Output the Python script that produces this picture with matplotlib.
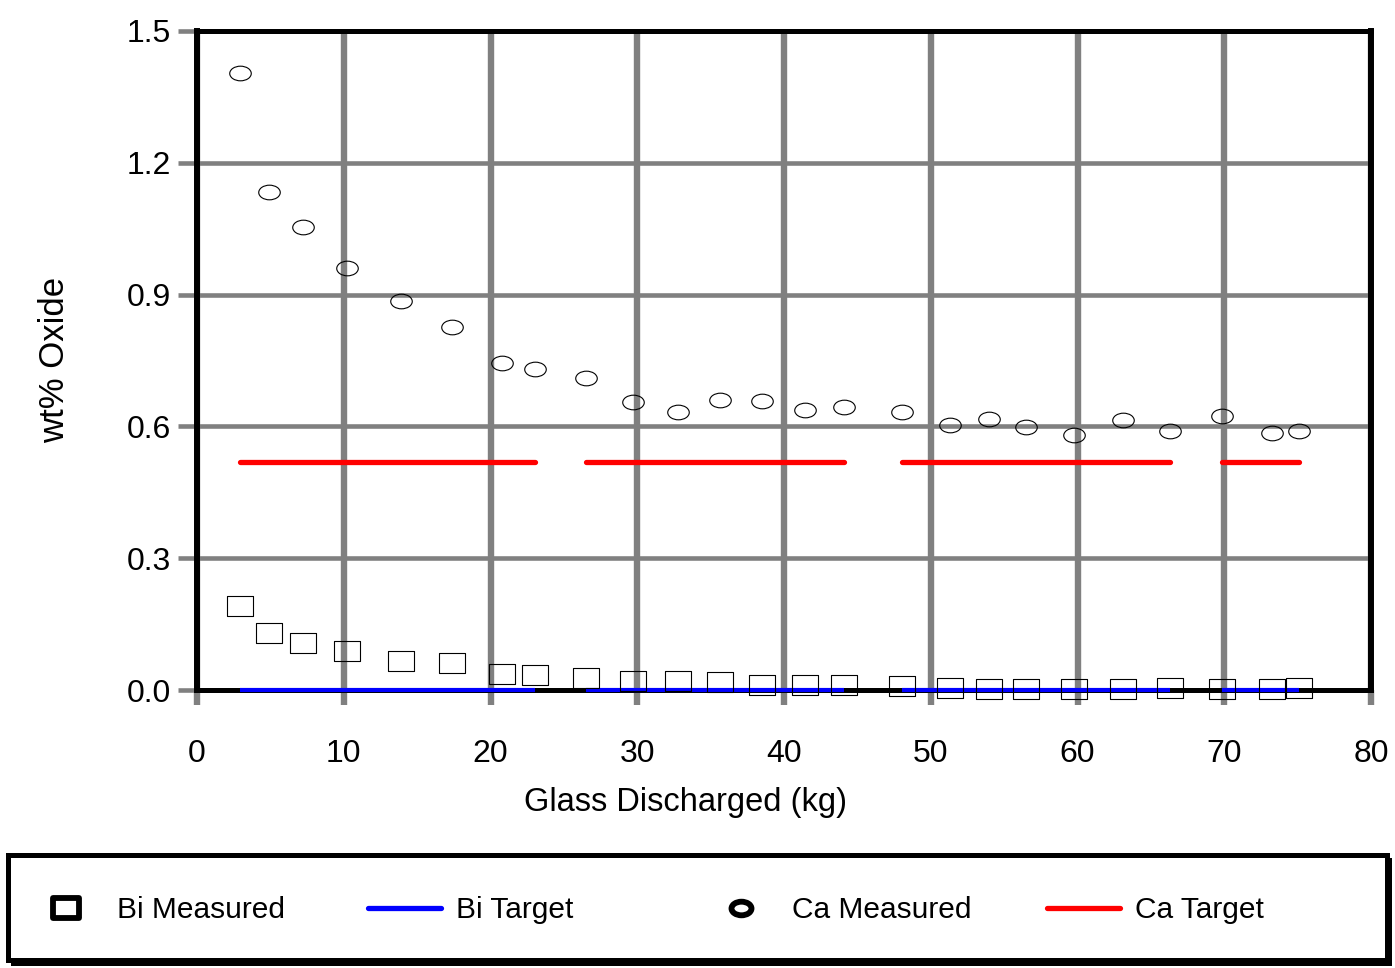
import numpy as np
import matplotlib
matplotlib.use("Agg")
import matplotlib.pyplot as plt
from matplotlib.path import Path
from matplotlib.lines import Line2D
from matplotlib.patches import Rectangle

plt.rcParams['font.family'] = ['Liberation Sans', 'DejaVu Sans']

# Glass discharged at each sample (kg)
glass_kg = [2.90, 4.91, 7.19, 10.22, 13.87, 17.38, 20.75, 23.00,
            26.51, 29.68, 32.81, 35.64, 38.47, 41.40, 44.12,
            48.07, 51.28, 54.00, 56.52, 59.73, 63.13, 66.27,
            69.88, 73.25, 75.06]
# Feed batch each sample belongs to (target lines are drawn per batch)
batch = [1] * 8 + [2] * 7 + [3] * 7 + [4] * 3

bi_measured = [0.191, 0.130, 0.107, 0.089, 0.066, 0.061, 0.036, 0.034,
               0.027, 0.021, 0.020, 0.019, 0.012, 0.012, 0.012,
               0.010, 0.005, 0.003, 0.003, 0.003, 0.003, 0.005,
               0.003, 0.003, 0.005]
ca_measured = [1.404, 1.134, 1.054, 0.961, 0.885, 0.826, 0.744, 0.731,
               0.710, 0.656, 0.633, 0.660, 0.658, 0.637, 0.644,
               0.633, 0.603, 0.617, 0.599, 0.580, 0.615, 0.590,
               0.624, 0.585, 0.590]
bi_target = 0.0
ca_target = 0.52

x_ticks = [0, 10, 20, 30, 40, 50, 60, 70, 80]
y_ticks = [0.0, 0.3, 0.6, 0.9, 1.2, 1.5]
y_tick_labels = ['0.0', '0.3', '0.6', '0.9', '1.2', '1.5']

# Hollow marker shapes: a flat box and a flat ellipse
box = Path([(-1, -0.74), (1, -0.74), (1, 0.74), (-1, 0.74), (-1, -0.74)],
           [Path.MOVETO, Path.LINETO, Path.LINETO, Path.LINETO, Path.CLOSEPOLY])
circ = Path.unit_circle()
oval = Path(circ.vertices * np.array([1.0, 0.68]), circ.codes)

W, H = 1395, 968
fig = plt.figure(figsize=(W / 100, H / 100), dpi=100)
ax = fig.add_axes([197 / W, 1 - 690 / H, (1371 - 197) / W, (690 - 31) / H])

x = np.array(glass_kg)
b = np.array(batch)
for k in np.unique(b):
    xs = x[b == k]
    ax.plot(xs, np.full(xs.size, ca_target), color='#ff0000', lw=3.8,
            solid_capstyle='round', zorder=2, clip_on=False)
    ax.plot(xs, np.full(xs.size, bi_target), color='#0000ff', lw=3.0,
            solid_capstyle='butt', zorder=2, clip_on=False)

ax.plot(x, bi_measured, linestyle='none', marker=box, markersize=19,
        markerfacecolor='none', markeredgecolor='black', markeredgewidth=0.8,
        zorder=3, clip_on=False)
ax.plot(x, ca_measured, linestyle='none', marker=oval, markersize=15.5,
        markerfacecolor='none', markeredgecolor='black', markeredgewidth=0.8,
        zorder=3, clip_on=False)

ax.set_xlim(0, 80)
ax.set_ylim(0, 1.5)
ax.set_xticks(x_ticks)
ax.set_yticks(y_ticks)
ax.set_yticklabels(y_tick_labels)

ax.set_axisbelow(True)
ax.grid(axis='x', color='#808080', lw=4.6, zorder=0.5)
ax.grid(axis='y', color='#808080', lw=3.3, zorder=0.5)
for side, spine in ax.spines.items():
    spine.set_color('black')
    spine.set_zorder(0.6)
    spine.set_linewidth(4.3 if side in ('left', 'right') else 3.6)

ax.tick_params(axis='y', direction='out', length=14, width=3.3,
               color='#808080', pad=4.5, labelsize=23)
ax.tick_params(axis='x', direction='out', length=11, width=4.6,
               color='#808080', pad=24, labelsize=23)

ax.set_xlabel('Glass Discharged (kg)', fontsize=23.5)
ax.xaxis.set_label_coords((685 - 197) / (1371 - 197), -(802 - 690) / (690 - 31))
ax.xaxis.label.set_verticalalignment('center')
ax.set_ylabel('wt% Oxide', fontsize=25)
ax.yaxis.set_label_coords(-(197 - 55) / (1371 - 197), (690 - 360) / (690 - 31))
ax.yaxis.label.set_verticalalignment('center')

# Legend panel with drop shadow along the bottom and right edges
shadow = Rectangle((11 / W, 1 - 966 / H), (1392 - 11) / W, (966 - 858) / H,
                   transform=fig.transFigure, facecolor='black',
                   edgecolor='none', zorder=0)
panel = Rectangle((8 / W, 1 - 960 / H), (1387 - 8) / W, (960 - 855) / H,
                  transform=fig.transFigure, facecolor='white',
                  edgecolor='black', lw=3.6, zorder=1)
fig.patches.extend([shadow, panel])

handles = [
    Line2D([], [], linestyle='none', marker=box, markersize=19.4,
           markerfacecolor='none', markeredgecolor='black',
           markeredgewidth=4.2, label='Bi Measured'),
    Line2D([], [], color='#0000ff', lw=3.8, solid_capstyle='round',
           label='Bi Target'),
    Line2D([], [], linestyle='none', marker=oval, markersize=14.4,
           markerfacecolor='none', markeredgecolor='black',
           markeredgewidth=4.2, label='Ca Measured'),
    Line2D([], [], color='#ff0000', lw=3.8, solid_capstyle='round',
           label='Ca Target'),
]
starts = [29, 368, 704, 1047]
for h, sx in zip(handles, starts):
    fig.legend(handles=[h], loc='center left',
               bbox_to_anchor=(sx / W, 1 - 910 / H),
               frameon=False, fontsize=21.5, handlelength=2.45,
               handletextpad=0.5, borderpad=0, borderaxespad=0,
               numpoints=1)

fig.savefig('out.png', dpi=100)
